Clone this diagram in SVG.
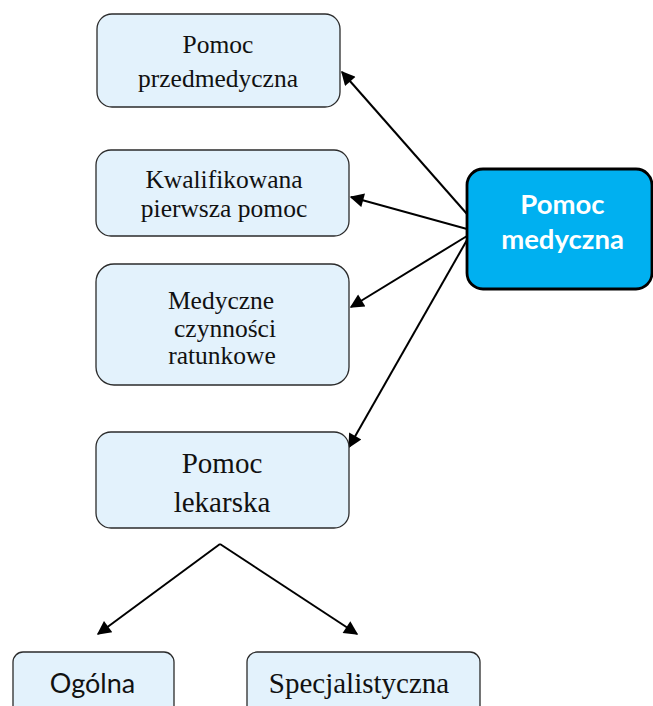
<svg xmlns="http://www.w3.org/2000/svg" width="653" height="706" viewBox="0 0 653 706">
  <style>
    .box { fill: #E3F2FC; stroke: #2B2B2B; stroke-width: 1.3; }
    .main { fill: #00B0F0; stroke: #000; stroke-width: 2.8; }
    .serif { font-family: "Liberation Serif", "Times New Roman", serif; font-size: 25.5px; fill: #111; text-anchor: middle; }
    .big { font-size: 29px; }
    .sans { font-family: Lato, "Noto Sans", sans-serif; font-size: 27px; fill: #111; text-anchor: middle; }
    .mainText { font-family: Lato, "Noto Sans", sans-serif; font-size: 27.5px; font-weight: bold; fill: #fff; text-anchor: middle; }
    .link { stroke: #000; stroke-width: 2; fill: none; marker-end: url(#arrow); }
  </style>
  <defs>
    <marker id="arrow" viewBox="0 0 10 10" refX="9" refY="5" markerWidth="8" markerHeight="7" markerUnits="strokeWidth" orient="auto">
      <path d="M0,0 L10,5 L0,10 z" fill="#000"/>
    </marker>
  </defs>

  <g id="connectors">
    <line class="link" x1="467" y1="214" x2="342" y2="72"/>
    <line class="link" x1="467" y1="229" x2="351" y2="197"/>
    <line class="link" x1="467" y1="236" x2="351" y2="307"/>
    <line class="link" x1="467" y1="240" x2="349" y2="447"/>
    <line class="link" x1="220" y1="544" x2="98" y2="634"/>
    <line class="link" x1="220" y1="544" x2="357" y2="634"/>
  </g>

  <g id="pomoc-przedmedyczna">
    <rect class="box" x="97" y="14" width="243" height="93" rx="15"/>
    <text class="serif" x="218" y="53">Pomoc</text>
    <text class="serif" x="218" y="87">przedmedyczna</text>
  </g>

  <g id="kwalifikowana-pierwsza-pomoc">
    <rect class="box" x="96" y="150" width="253" height="86" rx="15"/>
    <text class="serif" x="224" y="188">Kwalifikowana</text>
    <text class="serif" x="224" y="217">pierwsza pomoc</text>
  </g>

  <g id="medyczne-czynnosci-ratunkowe">
    <rect class="box" x="96" y="264" width="253" height="121" rx="18"/>
    <text class="serif" x="221" y="309">Medyczne</text>
    <text class="serif" x="225" y="337">czynności</text>
    <text class="serif" x="222" y="364">ratunkowe</text>
  </g>

  <g id="pomoc-lekarska">
    <rect class="box" x="96" y="432" width="253" height="96" rx="15"/>
    <text class="serif big" x="222" y="473">Pomoc</text>
    <text class="serif big" x="222" y="512">lekarska</text>
  </g>

  <g id="pomoc-medyczna">
    <rect class="main" x="467" y="169" width="185" height="120" rx="16"/>
    <text class="mainText" x="562.5" y="214">Pomoc</text>
    <text class="mainText" x="562.5" y="249">medyczna</text>
  </g>

  <g id="ogolna">
    <rect class="box" x="13" y="652" width="161" height="70" rx="10"/>
    <text class="sans" x="92.5" y="693">Ogólna</text>
  </g>

  <g id="specjalistyczna">
    <rect class="box" x="247" y="652" width="233" height="70" rx="10"/>
    <text class="serif big" x="359" y="693">Specjalistyczna</text>
  </g>
</svg>
